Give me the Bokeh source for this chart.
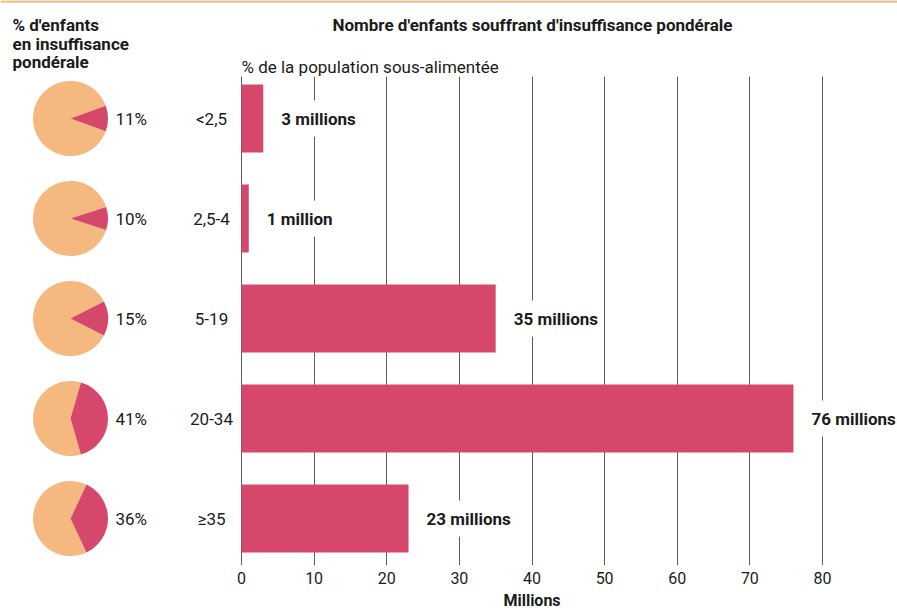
import math
from bokeh.plotting import figure
from bokeh.models import ColumnDataSource, Range1d, FixedTicker, Span
from bokeh.layouts import column
from bokeh.core.properties import value
from bokeh.embed import file_html
from bokeh.resources import INLINE

# ---------------- data ----------------
categories = ["<2,5", "2,5-4", "5-19", "20-34", "≥35"]
children_millions = [3, 1, 35, 76, 23]
value_labels = ["3 millions", "1 million", "35 millions", "76 millions", "23 millions"]
underweight_pct = [11, 10, 15, 41, 36]
pct_labels = ["11%", "10%", "15%", "41%", "36%"]
x_ticks = [0, 10, 20, 30, 40, 50, 60, 70, 80]

title_left = ["% d'enfants", "en insuffisance", "pondérale"]
title_main = "Nombre d'enfants souffrant d'insuffisance pondérale"
subtitle = "% de la population sous-alimentée"
x_label = "Millions"

# ---------------- style / layout ----------------
FONT = "Roboto"
BAR = "#D5486C"
PIE_BG = "#F5B97F"
LINE = "#F6B26B"
INK = "#1b1b1b"
GRID = "#5c5c5c"

W, H = 897, 610
HEAD_H = 76            # header height (page px)
FRAME_BOTTOM = 565     # page px of the frame bottom
AXIS_H = 24            # space under the frame for tick labels
FOOT_H = H - FRAME_BOTTOM - AXIS_H
ROW0 = 118             # page px of first row centre
ROW_STEP = 100         # page px between rows
X0_PX = 241.0          # pixel of value 0
PX_PER_UNIT = 7.2625   # pixels per million
x_start = -X0_PX / PX_PER_UNIT
x_end = (W - X0_PX) / PX_PER_UNIT


def px_x(px):
    return (px - X0_PX) / PX_PER_UNIT


x_range = Range1d(x_start, x_end)


def strip(fig):
    fig.outline_line_color = None
    fig.grid.visible = False


# ---------------- header ----------------
head = figure(width=W, height=HEAD_H, x_range=x_range,
              y_range=Range1d(HEAD_H, 0),
              output_backend="svg", toolbar_location=None,
              x_axis_location=None, y_axis_location=None,
              min_border_left=0, min_border_right=0,
              min_border_top=0, min_border_bottom=0)
strip(head)
head.add_layout(Span(location=1, dimension="width", line_color=LINE,
                     line_width=2))
head.text(x=[px_x(12)] * 3, y=[24, 43, 61], text=title_left,
          text_baseline="middle", text_align="left",
          text_font=value(FONT), text_font_style="bold",
          text_font_size="17px", text_color=INK)
head.text(x=[px_x(532)], y=[24], text=[title_main],
          text_baseline="middle", text_align="center",
          text_font=value(FONT), text_font_style="bold",
          text_font_size="17px", text_color=INK)
head.text(x=[px_x(241)], y=[66], text=[subtitle],
          text_baseline="middle", text_align="left",
          text_font=value(FONT), text_font_size="17px", text_color=INK)

# ---------------- main ----------------
row = list(range(len(categories)))
y_top = (HEAD_H - ROW0) / ROW_STEP
y_bot = (FRAME_BOTTOM - ROW0) / ROW_STEP

a = [p_ / 100.0 * math.pi for p_ in underweight_pct]
src = ColumnDataSource(dict(
    row=row,
    cat=categories,
    val=children_millions,
    vlab=value_labels,
    plab=pct_labels,
    a_start=[-v for v in a],
    a_end=a,
    b_end=[2 * math.pi - v for v in a],
))

p = figure(width=W, height=FRAME_BOTTOM + AXIS_H - HEAD_H,
           x_range=x_range, y_range=Range1d(y_bot, y_top),
           output_backend="svg", toolbar_location=None,
           min_border_left=0, min_border_right=0,
           min_border_top=0, min_border_bottom=AXIS_H,
           y_axis_location=None)
p.outline_line_color = None

p.ygrid.visible = False
p.xgrid.ticker = FixedTicker(ticks=x_ticks)
p.xgrid.grid_line_color = GRID
p.xgrid.grid_line_width = 1

p.xaxis.ticker = FixedTicker(ticks=x_ticks)
p.xaxis.axis_line_color = None
p.xaxis.major_tick_line_color = None
p.xaxis.minor_tick_line_color = None
p.xaxis.major_tick_in = 0
p.xaxis.major_tick_out = 0
p.xaxis.major_label_standoff = 6
p.xaxis.major_label_text_font = FONT
p.xaxis.major_label_text_font_size = "16px"
p.xaxis.major_label_text_color = INK

# bars
p.hbar(y="row", right="val", left=0, height=0.68, source=src,
       fill_color=BAR, line_color=None)

# value labels
p.text(x="val", y="row", text="vlab", source=src, x_offset=16,
       text_baseline="middle", text_align="left",
       text_font=value(FONT), text_font_style="bold", text_font_size="17px",
       text_color=INK, background_fill_color="white",
       padding=dict(left=2, right=2, top=8, bottom=8))

# category labels
p.text(x=px_x(211), y="row", text="cat", source=src,
       text_baseline="middle", text_align="center",
       text_font=value(FONT), text_font_size="17px", text_color=INK)

# pies
PIE_X = px_x(70)
p.wedge(x=PIE_X, y="row", radius=37.5, radius_units="screen",
        start_angle="a_end", end_angle="b_end", source=src,
        fill_color=PIE_BG, line_color=None)
p.wedge(x=PIE_X, y="row", radius=37.5, radius_units="screen",
        start_angle="a_start", end_angle="a_end", source=src,
        fill_color=BAR, line_color=None)

# pie labels
p.text(x=px_x(115), y="row", text="plab", source=src,
       text_baseline="middle", text_align="left",
       text_font=value(FONT), text_font_size="17px", text_color=INK)

# ---------------- footer (axis title centred on the 0-80 scale) ----------------
foot = figure(width=W, height=FOOT_H, x_range=x_range,
              y_range=Range1d(FOOT_H, 0),
              output_backend="svg", toolbar_location=None,
              x_axis_location=None, y_axis_location=None,
              min_border_left=0, min_border_right=0,
              min_border_top=0, min_border_bottom=0)
strip(foot)
foot.text(x=[(x_ticks[0] + x_ticks[-1]) / 2], y=[FOOT_H / 2], text=[x_label],
          text_baseline="middle", text_align="center",
          text_font=value(FONT), text_font_style="bold",
          text_font_size="16px", text_color=INK)

layout = column(head, p, foot, spacing=0)
open("out.html", "w").write(file_html(layout, INLINE))
